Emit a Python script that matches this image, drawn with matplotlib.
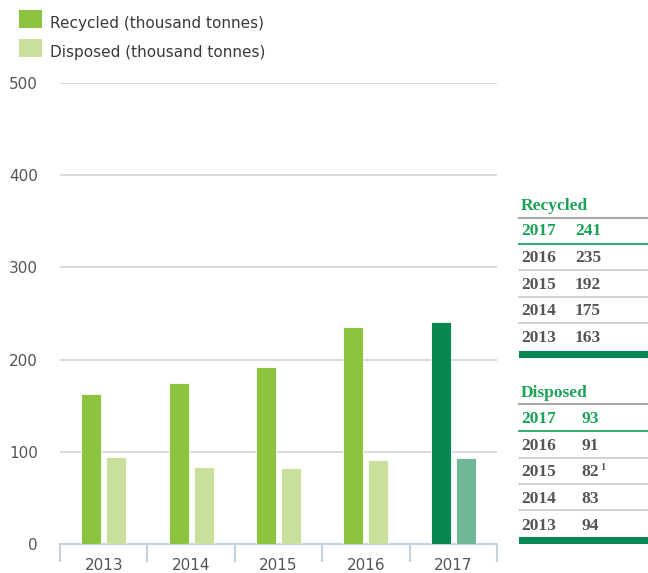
import matplotlib
matplotlib.use("Agg")
import matplotlib.pyplot as plt
from matplotlib.patches import Rectangle
from matplotlib.lines import Line2D
import numpy as np

# ---- data ----
years = ["2013", "2014", "2015", "2016", "2017"]
recycled = [163, 175, 192, 235, 241]
disposed = [94, 83, 82, 91, 93]
disposed_notes = {"2015": "1"}
y_ticks = [0, 100, 200, 300, 400, 500]
series_labels = ["Recycled (thousand tonnes)", "Disposed (thousand tonnes)"]
table_titles = ["Recycled", "Disposed"]

# ---- style ----
C_REC = "#8cc43f"
C_DIS = "#c9e09c"
C_REC_HI = "#078850"
C_DIS_HI = "#6fb895"
C_TXT = "#555555"
C_GREEN_TXT = "#1aa357"
C_GRID = "#dadada"
C_AXIS = "#c3d3e2"

W, H = 648, 573
fig = plt.figure(figsize=(W / 100, H / 100), dpi=100)


def fx(x):
    return x / W


def fy(y):
    return 1 - y / H


ax = fig.add_axes([fx(60), fy(544), (497 - 60) / W, (544 - 83) / H])
n = len(years)
x = np.arange(n)
bw = 0.23
off = 0.143
rec_colors = [C_REC] * (n - 1) + [C_REC_HI]
dis_colors = [C_DIS] * (n - 1) + [C_DIS_HI]
ax.bar(x - off, recycled, width=bw, color=rec_colors, edgecolor="white",
       linewidth=0.6, zorder=3)
ax.bar(x + off, disposed, width=bw, color=dis_colors, edgecolor="white",
       linewidth=0.6, zorder=3)

ax.set_xlim(-0.5, n - 0.5)
ax.set_ylim(0, 500)
ax.set_yticks(y_ticks)
ax.set_yticklabels([str(v) for v in y_ticks], fontsize=11, color=C_TXT,
                   family="DejaVu Sans")
ax.tick_params(axis="y", length=0, pad=16)
for v in y_ticks[1:]:
    ax.axhline(v, color=C_GRID, linewidth=1.4, zorder=1)

for s in ["top", "right", "left"]:
    ax.spines[s].set_visible(False)
ax.spines["bottom"].set_color(C_AXIS)
ax.spines["bottom"].set_linewidth(1.5)
ax.set_xticks(np.arange(n + 1) - 0.5)
ax.set_xticklabels([])
ax.tick_params(axis="x", which="major", length=13, width=1.5, color=C_AXIS,
               direction="out")
ax.set_xticks(x, minor=True)
ax.set_xticklabels(years, minor=True, fontsize=11, color=C_TXT,
                   family="DejaVu Sans")
ax.tick_params(axis="x", which="minor", length=0, pad=10)

# ---- legend ----
leg_items = [(series_labels[0], C_REC, 10, 27.7), (series_labels[1], C_DIS, 39, 56.7)]
for label, col, ytop, base in leg_items:
    fig.add_artist(Rectangle((fx(19), fy(ytop + 18)), 23 / W, 18 / H,
                             transform=fig.transFigure, color=col, lw=0))
    fig.text(fx(50), fy(base), label, fontsize=11, color="#3a3a3a",
             family="DejaVu Sans", va="baseline", ha="left")

# ---- side tables ----
SERIF = "Liberation Serif"
FS = 12.5


def hline(y, color, lw):
    fig.add_artist(Line2D([fx(519), fx(648)], [fy(y), fy(y)],
                          transform=fig.transFigure, color=color, lw=lw))


def draw_table(title, values, title_base, header_line, row_bases, row_lines,
               bar_top, val_x, notes):
    fig.text(fx(521), fy(title_base), title, fontsize=FS, family=SERIF,
             weight="bold", color=C_GREEN_TXT, va="baseline")
    hline(header_line, "#a9a9a9", 1.5)
    order = list(range(len(years)))[::-1]
    for i, idx in enumerate(order):
        col = C_GREEN_TXT if i == 0 else C_TXT
        fig.text(fx(521), fy(row_bases[i]), years[idx], fontsize=FS,
                 family=SERIF, weight="bold", color=col, va="baseline")
        fig.text(fx(val_x), fy(row_bases[i]), str(values[idx]),
                 fontsize=FS, family=SERIF, weight="bold", color=col,
                 va="baseline")
        if years[idx] in notes:
            fig.text(fx(val_x + 18.5), fy(row_bases[i] - 6), notes[years[idx]],
                     fontsize=7.5, family=SERIF, weight="bold", color=col,
                     va="baseline")
    for j, ly in enumerate(row_lines):
        if j == 0:
            hline(ly, "#2bb06a", 1.4)
        else:
            hline(ly, "#c9c9c9", 1.2)
    fig.add_artist(Rectangle((fx(519), fy(bar_top + 7)), (648 - 519) / W,
                             7 / H, transform=fig.transFigure,
                             color="#078850", lw=0))


draw_table(table_titles[0], recycled, 209.5, 217.7,
           [235, 262, 288.7, 315.3, 342], [244, 270, 296.5, 322.5], 350.7,
           575, {})
draw_table(table_titles[1], disposed, 396.7, 404.3,
           [423.3, 450, 476.5, 503, 529.5], [431, 457.7, 483.7, 510], 536.7,
           581.5, disposed_notes)

fig.savefig("out.png", dpi=100)
